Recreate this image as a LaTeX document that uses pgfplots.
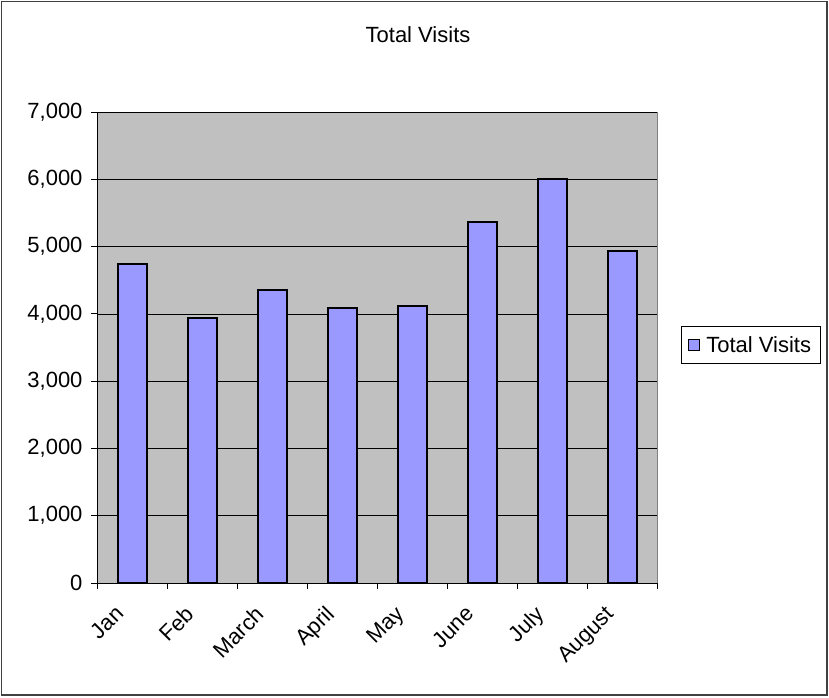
\documentclass[border=0pt]{standalone}
\usepackage{pgfplots}
\pgfplotsset{compat=1.18}
\usepackage{fontspec}
\setmainfont{Liberation Sans}
\definecolor{barfill}{HTML}{9999FF}
\definecolor{plotbg}{HTML}{C0C0C0}
\begin{document}
\begin{tikzpicture}
\path[use as bounding box] (0bp,0bp) rectangle (829bp,698bp);
\draw[line width=1.2bp, black!75] (1.5bp,3bp) rectangle (827bp,696.5bp);
\node[font=\fontsize{22bp}{26bp}\selectfont] at (418bp,663bp) {Total Visits};
\begin{axis}[
  at={(97bp,115bp)}, anchor=south west,
  scale only axis, width=560bp, height=471bp,
  xmin=0, xmax=8, ymin=0, ymax=7000,
  axis lines=left,
  axis line style={-, black, line width=0.8bp},
  axis background/.style={fill=plotbg, draw=gray, line width=0.8bp},
  ymajorgrids, major grid style={black, line width=0.6bp},
  ytick={0,1000,...,7000},
  scaled y ticks=false,
  /pgf/number format/1000 sep={,},
  /pgf/number format/assume math mode=true,
  xtick={0.5,1.5,...,7.5},
  xticklabels={Jan,Feb,March,April,May,June,July,August},
  minor xtick={0,1,...,8},
  tick align=outside,
  major tick length=6bp,
  minor tick length=6bp,
  major x tick style={draw=none},
  minor x tick style={draw=black, line width=0.8bp},
  y tick style={black, line width=0.8bp},
  tick label style={font=\fontsize{22bp}{26bp}\selectfont},
  yticklabel style={xshift=-5bp},
  xticklabel style={rotate=45, anchor=north east, xshift=-20bp, yshift=5bp},
  legend style={at={(1.043,0.546)}, anchor=north west, draw=black, line width=0.8bp,
    font=\fontsize{22bp}{26bp}\selectfont, inner xsep=7bp, inner ysep=8bp},
  legend image code/.code={\draw[fill=barfill, draw=black, line width=0.8bp] (0bp,-5bp) rectangle (11bp,6bp);},
]
\addplot[ybar, bar width=29bp, fill=barfill, draw=black, line width=2bp, line join=miter] coordinates {
(0.5,4740) (1.5,3940) (2.5,4353) (3.5,4088) (4.5,4118) (5.5,5364) (6.5,6000) (7.5,4941)};
\addlegendentry{\hspace{4bp}Total Visits}
\end{axis}
\end{tikzpicture}
\end{document}
